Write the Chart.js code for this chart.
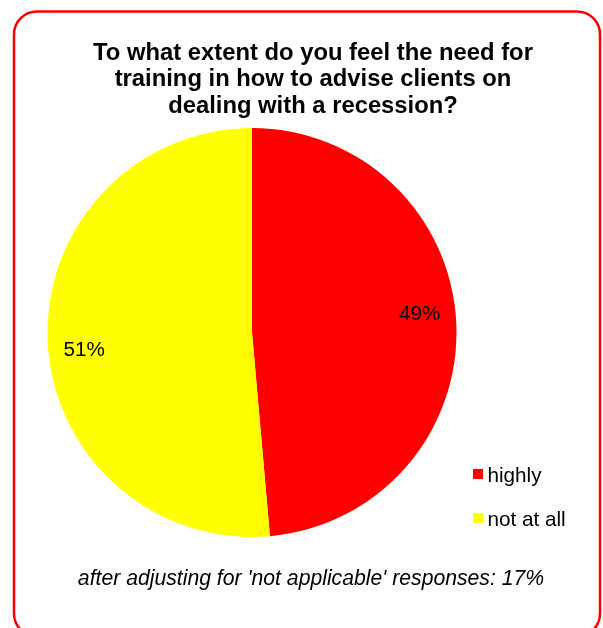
<!DOCTYPE html>
<html>
<head>
<meta charset="utf-8">
<script src="https://cdn.jsdelivr.net/npm/chart.js@4/dist/chart.umd.min.js"></script>
<style>
  html, body { margin: 0; padding: 0; background: #ffffff; }
  #wrap { width: 603px; height: 628px; position: relative; }
</style>
</head>
<body>
<div id="wrap"><canvas id="c" width="603" height="628"></canvas></div>
<script>
// ---- data ----
const categories = ['highly', 'not at all'];
const shares = [48.6, 51.4];            // pie slice sizes
const shownPercents = [49, 51];         // labels printed on the slices
const sliceColors = ['#FF0000', '#FFFF00'];
const titleLines = [
  'To what extent do you feel the need for',
  'training in how to advise clients on',
  'dealing with a recession?'
];
const footnote = "after adjusting for 'not applicable' responses: 17%";

const FONT = '"Liberation Sans", Arial, Helvetica, sans-serif';

const framePlugin = {
  id: 'frame',
  beforeDraw(chart) {
    const ctx = chart.ctx;
    ctx.save();
    ctx.fillStyle = '#ffffff';
    ctx.fillRect(0, 0, chart.width, chart.height);
    ctx.strokeStyle = '#FF0000';
    ctx.lineWidth = 2.5;
    ctx.beginPath();
    ctx.roundRect(14, 11.5, 586, 625, 23);
    ctx.stroke();
    ctx.restore();
  }
};

const textPlugin = {
  id: 'texts',
  afterDraw(chart, args, opts) {
    const ctx = chart.ctx;
    ctx.save();
    // title
    ctx.fillStyle = '#000000';
    ctx.textAlign = 'center';
    ctx.textBaseline = 'alphabetic';
    ctx.font = 'bold 23.8px ' + FONT;
    const tb = [59.5, 86.3, 113];
    titleLines.forEach((t, i) => ctx.fillText(t, 313, tb[i]));

    // slice labels
    const meta = chart.getDatasetMeta(0);
    ctx.font = '20.7px ' + FONT;
    ctx.textBaseline = 'middle';
    meta.data.forEach((arc, i) => {
      const p = arc.getProps(['x', 'y', 'startAngle', 'endAngle', 'outerRadius'], true);
      const a = (p.startAngle + p.endAngle) / 2 + opts.angleShift * Math.PI / 180;
      const r = p.outerRadius * opts.radiusFactor;
      ctx.fillText(shownPercents[i] + '%', p.x + r * Math.cos(a), p.y + r * Math.sin(a));
    });

    // legend
    ctx.textAlign = 'left';
    ctx.textBaseline = 'alphabetic';
    const lb = [481.5, 525.5];
    categories.forEach((c, i) => {
      ctx.fillStyle = sliceColors[i];
      ctx.fillRect(473, lb[i] - 12.5, 10, 10);
      ctx.fillStyle = '#000000';
      ctx.fillText(c, 487.5, lb[i]);
    });

    // footnote
    ctx.textAlign = 'center';
    ctx.font = 'italic 21.2px ' + FONT;
    ctx.fillText(footnote, 311, 585);
    ctx.restore();
  }
};

new Chart(document.getElementById('c'), {
  type: 'pie',
  data: {
    labels: categories,
    datasets: [{
      data: shares,
      backgroundColor: sliceColors,
      borderWidth: 0,
      hoverOffset: 0
    }]
  },
  options: {
    responsive: false,
    animation: false,
    events: [],
    layout: { padding: { left: 47.5, right: 146.5, top: 128, bottom: 91 } },
    plugins: {
      legend: { display: false },
      title: { display: false },
      tooltip: { enabled: false },
      texts: { angleShift: -3.6, radiusFactor: 0.825 }
    }
  },
  plugins: [framePlugin, textPlugin]
});
</script>
</body>
</html>
